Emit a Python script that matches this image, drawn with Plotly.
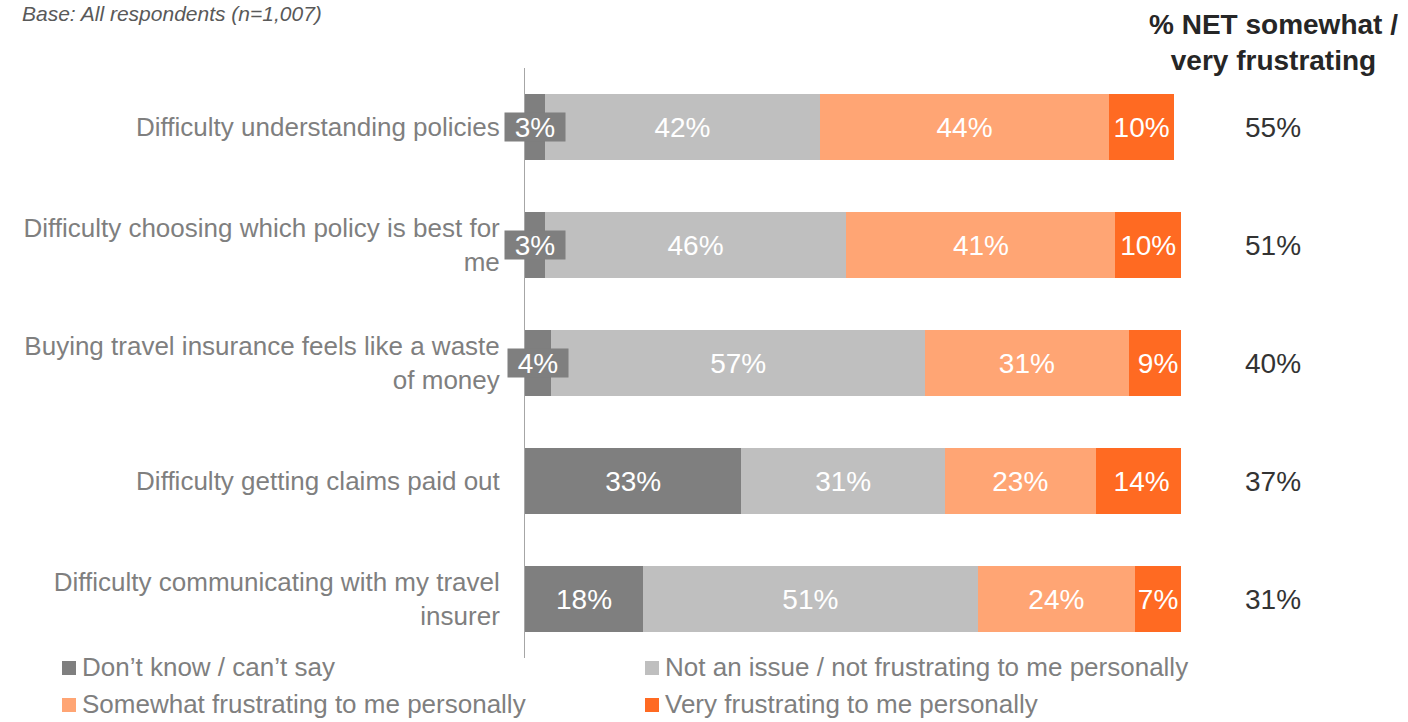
import plotly.graph_objects as go

# Survey data: frustration with travel insurance
categories = [
    "Difficulty understanding policies",
    "Difficulty choosing which policy is best for<br>me",
    "Buying travel insurance feels like a waste<br>of money",
    "Difficulty getting claims paid out",
    "Difficulty communicating with my travel<br>insurer",
]
dont_know = [3, 3, 4, 33, 18]
not_issue = [42, 46, 57, 31, 51]
somewhat = [44, 41, 31, 23, 24]
very = [10, 10, 9, 14, 7]
net_frustrating = [55, 51, 40, 37, 31]

series_names = [
    "Don’t know / can’t say",
    "Not an issue / not frustrating to me personally",
    "Somewhat frustrating to me personally",
    "Very frustrating to me personally",
]
series_values = [dont_know, not_issue, somewhat, very]
series_colors = ["#7f7f7f", "#bfbfbf", "#ffa574", "#ff6a22"]

FONT = "Liberation Sans, Arial, sans-serif"
SMALL = 5  # segments narrower than this get a boxed label

# plot area in pixels (used to place the legend and side text)
L, R, T, B = 525, 227, 68, 64
W, H = 1408, 722
PW, PH = W - L - R, H - T - B


def px_x(px):
    return (px - L) / PW


def px_y(py):
    return (H - B - py) / PH


fig = go.Figure()
for i, (name, vals, color) in enumerate(zip(series_names, series_values, series_colors)):
    txt = [f"{v}%" if (i != 0 or v >= SMALL) else "" for v in vals]
    fig.add_trace(go.Bar(
        name=name, y=categories, x=vals, orientation="h",
        marker=dict(color=color, line=dict(width=0)),
        text=txt, textposition="inside", insidetextanchor="middle",
        textangle=0, constraintext="none",
        insidetextfont=dict(color="white", size=28, family=FONT),
        width=0.555, hoverinfo="skip", showlegend=False,
    ))

shapes = []
annotations = []

# boxed labels for the thin "don't know" segments
for cat, v in zip(categories, dont_know):
    if v < SMALL:
        annotations.append(dict(
            x=v / 2, y=cat, xref="x", yref="y", text=f"{v}%", showarrow=False,
            font=dict(color="white", size=28, family=FONT),
            bgcolor=series_colors[0], borderpad=0, width=60, height=28,
            align="center", valign="middle",
            xanchor="center", yanchor="middle",
        ))

# NET column
net_x = px_x(1273)
for cat, v in zip(categories, net_frustrating):
    annotations.append(dict(
        x=net_x, y=cat, xref="paper", yref="y", text=f"{v}%", showarrow=False,
        font=dict(color="#333333", size=28, family=FONT),
        xanchor="center", yanchor="middle",
    ))
annotations.append(dict(
    x=net_x, y=px_y(43), xref="paper", yref="paper",
    text="<b>% NET somewhat /<br>very frustrating</b>", showarrow=False,
    font=dict(color="#262626", size=28, family=FONT),
    xanchor="center", yanchor="middle",
))
annotations.append(dict(
    x=px_x(20), y=px_y(13), xref="paper", yref="paper",
    text="<i>Base: All respondents (n=1,007)</i>", showarrow=False,
    font=dict(color="#595959", size=21, family=FONT),
    xanchor="left", yanchor="middle",
))

# legend: two columns, two rows
legend_pos = [(62, 667), (645, 667), (62, 704), (645, 704)]
for (lx, ly), name, color in zip(legend_pos, series_names, series_colors):
    shapes.append(dict(
        type="rect", xref="paper", yref="paper",
        xsizemode="pixel", ysizemode="pixel",
        xanchor=px_x(lx), yanchor=px_y(ly + 1),
        x0=0, x1=14, y0=-7, y1=7,
        fillcolor=color, line=dict(width=0),
    ))
    annotations.append(dict(
        x=px_x(lx + 18), y=px_y(ly), xref="paper", yref="paper",
        text=name, showarrow=False,
        font=dict(color="#7f7f7f", size=26, family=FONT),
        xanchor="left", yanchor="middle",
    ))

fig.update_layout(
    barmode="stack",
    width=W, height=H,
    margin=dict(l=L, r=R, t=T, b=B, pad=0),
    paper_bgcolor="white", plot_bgcolor="white",
    font=dict(family=FONT, color="#7f7f7f", size=26),
    xaxis=dict(range=[0, 100], visible=False, fixedrange=True),
    yaxis=dict(
        autorange="reversed", showline=True, linecolor="#a6a6a6", linewidth=1,
        showgrid=False, zeroline=False, ticks="", ticklabelstandoff=19,
        tickfont=dict(size=26, color="#7f7f7f", family=FONT),
        automargin=False, fixedrange=True,
    ),
    showlegend=False,
    shapes=shapes,
    annotations=annotations,
)

fig.write_html("out.html")
